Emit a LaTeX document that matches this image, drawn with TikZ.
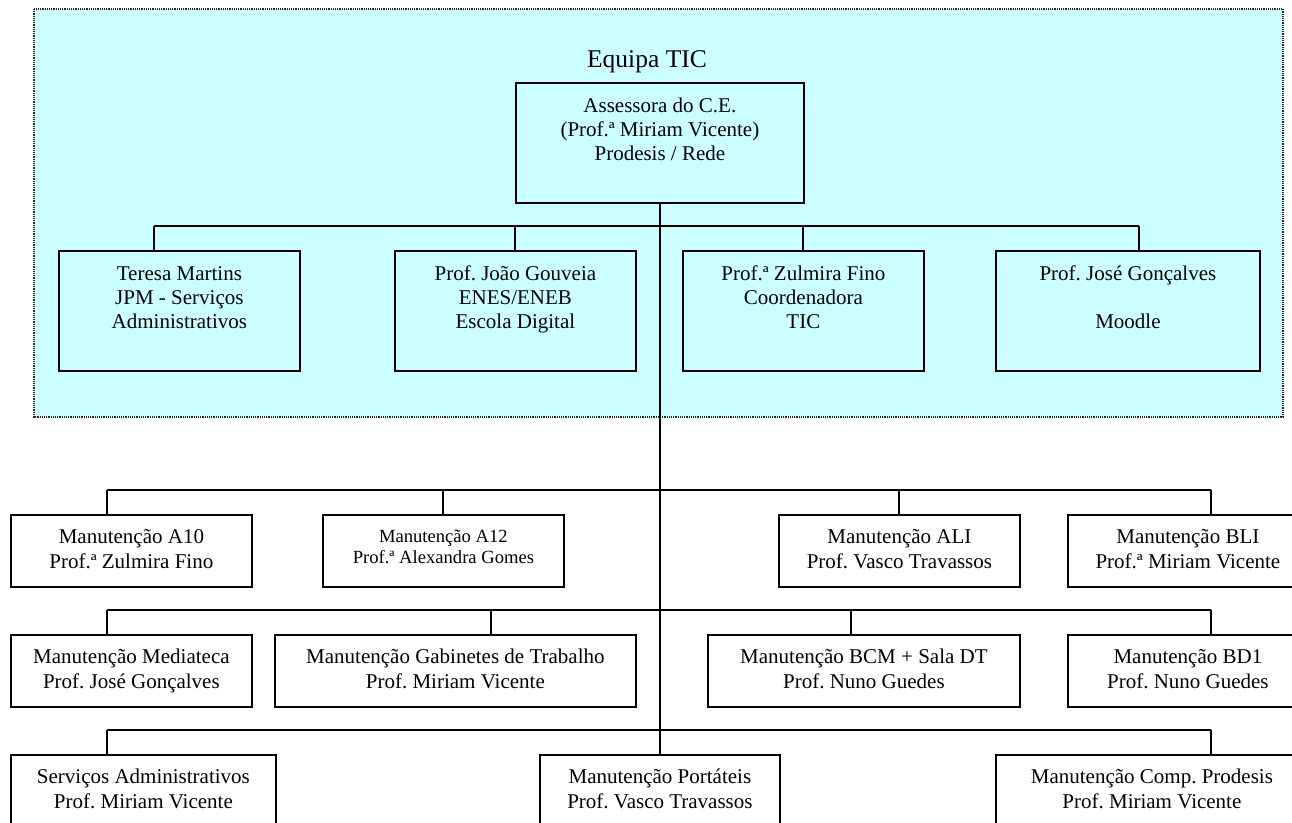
\documentclass[tikz,border=0pt]{standalone}
\usepackage{fontspec}
\setmainfont{Liberation Serif}
\frenchspacing
\definecolor{bgcyan}{HTML}{CCFFFF}
\begin{document}
\begin{tikzpicture}[x=1pt,y=-1pt,
  ob/.style={draw=black, line width=1.8pt, anchor=north west, inner sep=0pt,
    align=center, text=black},
  hi/.style={text height=78pt, text depth=42pt, font=\frenchspacing\fontsize{21}{24}\selectfont},
  lo/.style={text height=54pt, text depth=18pt, font=\frenchspacing\fontsize{21}{25}\selectfont},
  conn/.style={line width=1.4pt, draw=black},
  bgpanel/.style={fill=bgcyan, draw=black!85, densely dotted, line width=1.2pt}]
\useasboundingbox (0,0) rectangle (1292,822);
\clip (0,0) rectangle (1292,822);

% team panel
\path[bgpanel] (34,9) rectangle (1283,417);
\node[font=\fontsize{25.5}{30}\selectfont, anchor=base, inner sep=0pt] (title) at (647,67) {Equipa TIC};

% connector coordinates
\coordinate (t1) at (154,226);
\coordinate (t2) at (515,226);
\coordinate (t3) at (803,226);
\coordinate (t4) at (1139,226);
\coordinate (r1a) at (107,490);
\coordinate (r1b) at (443,490);
\coordinate (r1c) at (899,490);
\coordinate (r1d) at (1211,490);
\coordinate (r2a) at (107,610);
\coordinate (r2b) at (491,610);
\coordinate (r2c) at (851,610);
\coordinate (r2d) at (1211,610);
\coordinate (r3a) at (107,730);
\coordinate (r3d) at (1211,730);

% boxes
\node[ob,hi,minimum width=288pt] (assess) at (515,82) {Assessora do C.E.\\(Prof.ª Miriam Vicente)\\Prodesis / Rede};
\node[ob,hi,minimum width=241pt] (teresa) at (58,250) {Teresa Martins\\JPM - Serviços\\Administrativos};
\node[ob,hi,minimum width=241pt] (joao) at (394,250) {Prof. João Gouveia\\ENES/ENEB\\Escola Digital};
\node[ob,hi,minimum width=241pt] (zulmira) at (682,250) {Prof.ª Zulmira Fino\\Coordenadora\\TIC};
\node[ob,hi,minimum width=264pt] (jose) at (995,250) {Prof. José Gonçalves\\[24pt]Moodle};

\node[ob,lo,minimum width=241pt] (a10) at (10,514) {Manutenção A10\\Prof.ª Zulmira Fino};
\node[ob,minimum width=241pt,text height=49pt,text depth=23pt,font=\frenchspacing\fontsize{18.6}{21}\selectfont] (a12) at (322,514) {Manutenção A12\\Prof.ª Alexandra Gomes};
\node[ob,lo,minimum width=241pt] (ali) at (778,514) {Manutenção ALI\\Prof. Vasco Travassos};
\node[ob,lo,minimum width=240pt] (bli) at (1067,514) {Manutenção BLI\\Prof.ª Miriam Vicente};

\node[ob,lo,minimum width=241pt] (mediateca) at (10,634) {Manutenção Mediateca\\Prof. José Gonçalves};
\node[ob,lo,minimum width=361pt] (gabinetes) at (274,634) {Manutenção Gabinetes de Trabalho\\Prof. Miriam Vicente};
\node[ob,lo,minimum width=312pt] (bcm) at (707,634) {Manutenção BCM + Sala DT\\Prof. Nuno Guedes};
\node[ob,lo,minimum width=240pt] (bd1) at (1067,634) {Manutenção BD1\\Prof. Nuno Guedes};

\node[ob,lo,minimum width=265pt] (servicos) at (10,754) {Serviços Administrativos\\Prof. Miriam Vicente};
\node[ob,lo,minimum width=240pt] (portateis) at (539,754) {Manutenção Portáteis\\Prof. Vasco Travassos};
\node[ob,lo,minimum width=312pt] (comp) at (995,754) {Manutenção Comp. Prodesis\\Prof. Miriam Vicente};

% connectors
\draw[conn] (assess.south) -- (portateis.north);
\draw[conn] (t1) -- (t4);
\foreach \c/\n in {t1/teresa,t2/joao,t3/zulmira,t4/jose}
  \draw[conn] (\c) -- (\n.north -| \c);
\draw[conn] (r1a) -- (r1d);
\foreach \c/\n in {r1a/a10,r1b/a12,r1c/ali,r1d/bli}
  \draw[conn] (\c) -- (\n.north -| \c);
\draw[conn] (r2a) -- (r2d);
\foreach \c/\n in {r2a/mediateca,r2b/gabinetes,r2c/bcm,r2d/bd1}
  \draw[conn] (\c) -- (\n.north -| \c);
\draw[conn] (r3a) -- (r3d);
\foreach \c/\n in {r3a/servicos,r3d/comp}
  \draw[conn] (\c) -- (\n.north -| \c);
\end{tikzpicture}
\end{document}
